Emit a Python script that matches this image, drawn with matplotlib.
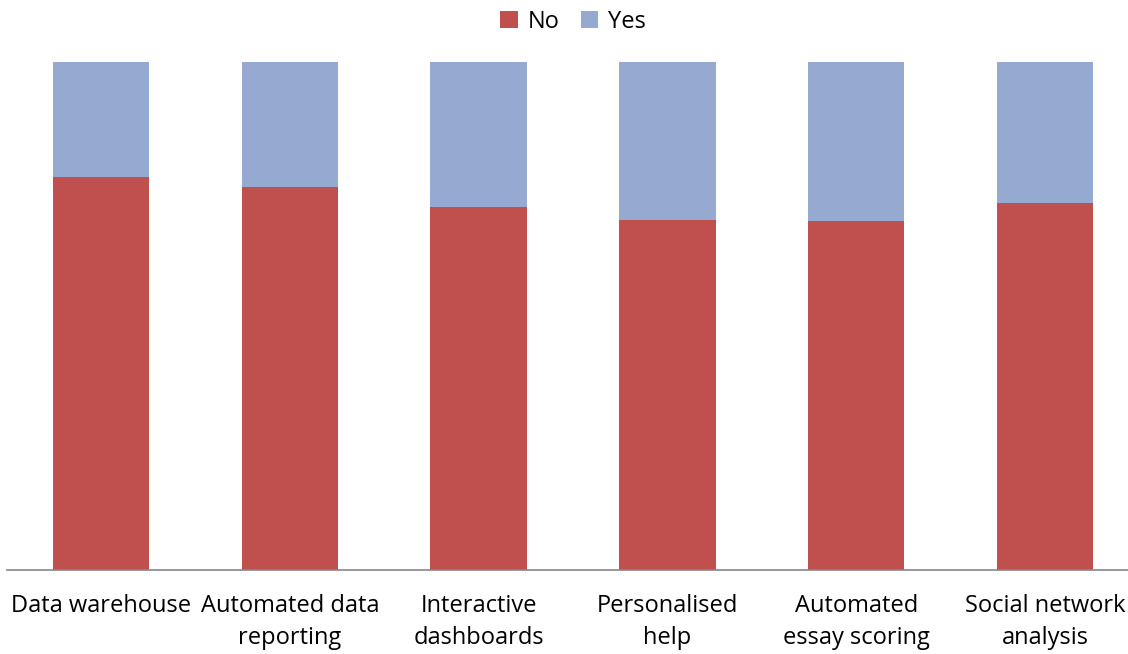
import matplotlib
matplotlib.use("Agg")
import matplotlib.pyplot as plt
import numpy as np

categories = ["Data warehouse", "Automated data\nreporting", "Interactive\ndashboards",
              "Personalised\nhelp", "Automated\nessay scoring", "Social network\nanalysis"]
no_vals = [77.4, 75.3, 71.5, 68.9, 68.7, 72.3]
yes_vals = [100 - v for v in no_vals]

plt.rcParams['font.family'] = ['Open Sans', 'DejaVu Sans']

fig = plt.figure(figsize=(11.28, 6.54), dpi=100)
ax = fig.add_axes([0.0059, 0.1284, 1.0042, 0.7768])

x = np.arange(len(categories))
ax.bar(x, no_vals, width=0.51, color='#C0504D', label='No')
ax.bar(x, yes_vals, width=0.51, bottom=no_vals, color='#95A9D1', label='Yes')

ax.set_xlim(-0.5, len(categories) - 0.5)
ax.set_ylim(0, 100)
ax.set_xticks(x)
ax.set_xticklabels(categories, fontsize=17, linespacing=1.45)
ax.tick_params(axis='x', length=0, pad=17)
ax.set_yticks([])
for s in ['top', 'right', 'left']:
    ax.spines[s].set_visible(False)
ax.spines['bottom'].set_color('#868686')
ax.spines['bottom'].set_linewidth(1.2)

ax.legend(loc='upper center', bbox_to_anchor=(0.5, 1.145), ncol=2, frameon=False,
          fontsize=17, handlelength=0.75, handleheight=0.75, handletextpad=0.4,
          columnspacing=0.9)

fig.savefig('out.png', dpi=100)
